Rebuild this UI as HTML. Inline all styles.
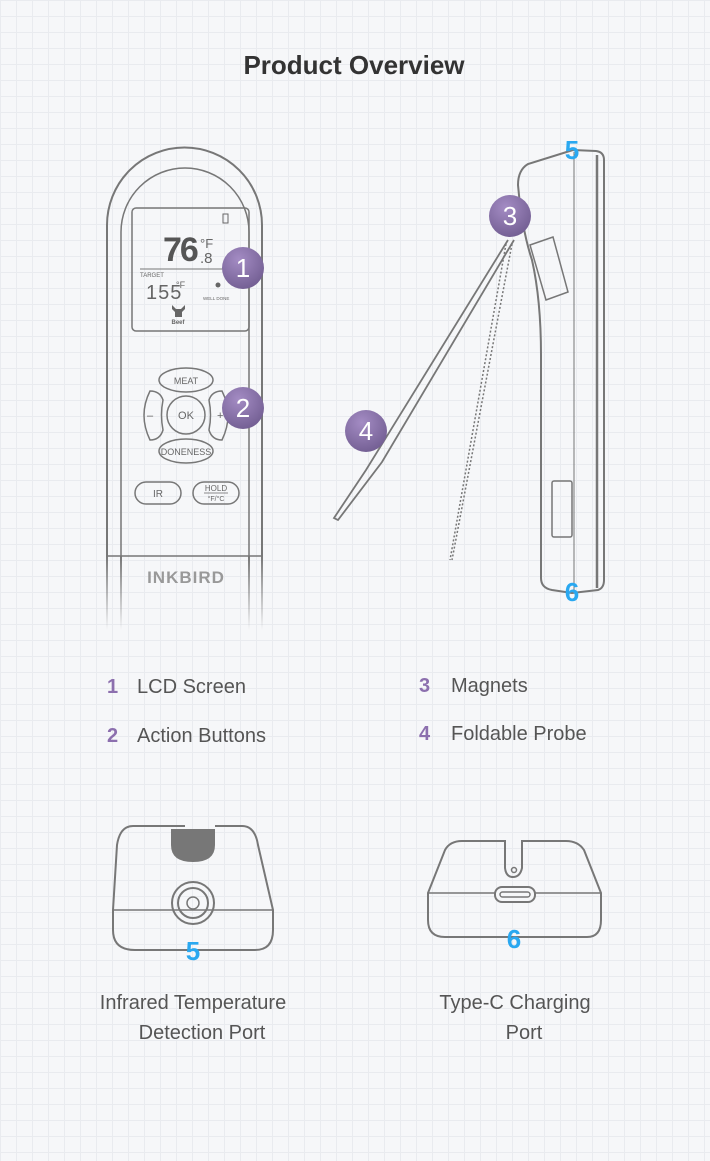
<!DOCTYPE html>
<html><head><meta charset="utf-8"><style>
html,body{margin:0;padding:0}
body{width:710px;height:1161px;overflow:hidden;background:#f6f7f9;
background-image:linear-gradient(#e9ebef 1px,transparent 1px),linear-gradient(90deg,#e9ebef 1px,transparent 1px);background-size:16px 16px;font-family:"Liberation Sans",sans-serif}
</style></head><body>
<svg width="710" height="1161" viewBox="0 0 710 1161" xmlns="http://www.w3.org/2000/svg" style="position:absolute;left:0;top:0">
<defs>
<radialGradient id="bg" cx="0.4" cy="0.3" r="0.8"><stop offset="0" stop-color="#a48cc4"/><stop offset="1" stop-color="#6e5a8e"/></radialGradient>
<linearGradient id="fade" x1="0" y1="0" x2="0" y2="1"><stop offset="0" stop-color="#777" stop-opacity="1"/><stop offset="1" stop-color="#777" stop-opacity="0"/></linearGradient>
</defs>
<text x="354" y="74" text-anchor="middle" font-size="26" font-weight="bold" fill="#333">Product Overview</text>
<g fill="none" stroke="#777" stroke-width="2">
<!-- front device -->
<path d="M107 556 V225 A77 77 0 0 1 262 225 V556" />
<path d="M121 556 V232 A64 64 0 0 1 249 232 V556" stroke-width="1.5"/>
<path d="M107 556 V630 M262 556 V630 M121 556 V630 M249 556 V630" stroke="url(#fade)"/>
<path d="M107 556 H262" stroke-width="1.5"/>
<rect x="132" y="208" width="117" height="123" rx="4" stroke-width="1.5"/>
<line x1="140" y1="269" x2="240" y2="269" stroke-width="1"/>
<ellipse cx="186" cy="380" rx="27" ry="12" stroke-width="1.5"/>
<circle cx="186" cy="415" r="19" stroke-width="1.5"/>
<ellipse cx="186" cy="451" rx="27" ry="12" stroke-width="1.5"/>
<path d="M150 391 Q138 415 150 440 Q160 440 163 430 Q160 415 163 400 Q160 391 150 391Z" stroke-width="1.5"/>
<path d="M222 391 Q234 415 222 440 Q212 440 209 430 Q212 415 209 400 Q212 391 222 391Z" stroke-width="1.5"/>
<rect x="135" y="482" width="46" height="22" rx="11" stroke-width="1.5"/>
<rect x="193" y="482" width="46" height="22" rx="11" stroke-width="1.5"/>
<!-- side device -->
<path d="M573 150 L528 164 Q518 170 518 185 Q522 230 532 260 Q541 300 541 355 V578 Q541 588 552 590 L572 593 L598 590 Q604 588 604 580 V160 Q604 152 596 151 Z" />
<line x1="574" y1="152" x2="574" y2="592" stroke-width="1"/>
<line x1="597" y1="155" x2="597" y2="588" stroke-width="2.5"/>
<path d="M530 245 L553 237 L568 292 L546 300 Z" stroke-width="1.5"/>
<rect x="552" y="481" width="20" height="56" rx="2" stroke-width="1.5"/>
<path d="M514 240 L382 462 L338 520 L334 518 L366 470 L508 240" stroke-width="1.8"/>
<path d="M512 244 L452 560 M506 244 L450 560" stroke-dasharray="2 2" stroke-width="1.5"/>
<!-- bottom left device -->
<path d="M185 826 H133 Q120 826 117 845 L113 910 V930 Q113 950 135 950 H255 Q273 950 273 930 V910 L258 845 Q255 826 242 826 H215" />
<path d="M113 910 H273" stroke-width="1.5"/>
<circle cx="193" cy="903" r="21"/><circle cx="193" cy="903" r="15"/><circle cx="193" cy="903" r="6" stroke-width="1.5"/>
<!-- bottom right device -->
<path d="M505 841 H462 Q450 841 445 850 L428 893 V920 Q428 937 445 937 H587 Q601 937 601 920 V893 L584 850 Q578 841 566 841 H522 V868 Q520 877 513 877 Q506 877 505 868 Z"/>
<path d="M428 893 H601" stroke-width="1.5"/>
<rect x="495" y="887" width="40" height="15" rx="7" fill="#f6f7f9"/>
<rect x="500" y="892" width="30" height="5" rx="2.5" stroke-width="1.5"/>
<circle cx="514" cy="870" r="2.5" stroke-width="1.5"/>
</g>
<path d="M171 829 H215 V845 Q215 862 193 862 Q171 862 171 845 Z" fill="#777"/>
<!-- LCD -->
<g fill="#666" font-family="Liberation Sans,sans-serif">
<text x="163" y="261" font-size="34" font-weight="bold" letter-spacing="-2" fill="#555">76</text>
<text x="200" y="248" font-size="13">°F</text><text x="200" y="263" font-size="15">.8</text>
<rect x="223" y="214" width="5" height="9" fill="none" stroke="#666"/>
<text x="140" y="277" font-size="6">TARGET</text>
<text x="146" y="299" font-size="20" letter-spacing="1">155</text><text x="176" y="288" font-size="9">°F</text>
<circle cx="218" cy="285" r="2.5"/>
<text x="203" y="300" font-size="4.5">WELL DONE</text>
<path d="M172 305 L176 309 H181 L185 305 V309 L182 312 V317 H175 V312 L172 309Z"/>
<text x="178" y="324" font-size="6" text-anchor="middle" font-weight="bold">Beef</text>
<text x="186" y="384" font-size="9" text-anchor="middle">MEAT</text>
<text x="186" y="419" font-size="11" text-anchor="middle">OK</text>
<text x="186" y="455" font-size="9" text-anchor="middle">DONENESS</text>
<text x="147" y="419" font-size="11">–</text><text x="217" y="419" font-size="11">+</text>
<text x="158" y="497" font-size="10" text-anchor="middle">IR</text>
<text x="216" y="491" font-size="8" text-anchor="middle">HOLD</text>
<line x1="204" y1="493" x2="228" y2="493" stroke="#666" stroke-width="0.8"/>
<text x="216" y="501" font-size="7" text-anchor="middle">°F/°C</text>
<text x="186" y="583" font-size="17" font-weight="bold" text-anchor="middle" fill="#999" letter-spacing="1">INKBIRD</text>
</g>
<!-- badges -->
<g font-size="26" fill="#fff" text-anchor="middle">
<circle cx="243" cy="268" r="21" fill="url(#bg)"/><text x="243" y="277">1</text>
<circle cx="243" cy="408" r="21" fill="url(#bg)"/><text x="243" y="417">2</text>
<circle cx="510" cy="216" r="21" fill="url(#bg)"/><text x="510" y="225">3</text>
<circle cx="366" cy="431" r="21" fill="url(#bg)"/><text x="366" y="440">4</text>
</g>
<g font-size="26" font-weight="bold" fill="#2aa8f0" text-anchor="middle">
<text x="572" y="159">5</text><text x="572" y="601">6</text>
<text x="193" y="960">5</text><text x="514" y="948">6</text>
</g>
<g font-size="20" fill="#555">
<text x="107" y="693" fill="#8c6fae" font-weight="bold">1</text><text x="137" y="693">LCD Screen</text>
<text x="107" y="742" fill="#8c6fae" font-weight="bold">2</text><text x="137" y="742">Action Buttons</text>
<text x="419" y="692" fill="#8c6fae" font-weight="bold">3</text><text x="451" y="692">Magnets</text>
<text x="419" y="740" fill="#8c6fae" font-weight="bold">4</text><text x="451" y="740">Foldable Probe</text>
<g text-anchor="middle">
<text x="193" y="1009">Infrared Temperature</text><text x="202" y="1039">Detection Port</text>
<text x="515" y="1009">Type-C Charging</text><text x="524" y="1039">Port</text>
</g>
</g>
</svg>
</body></html>
